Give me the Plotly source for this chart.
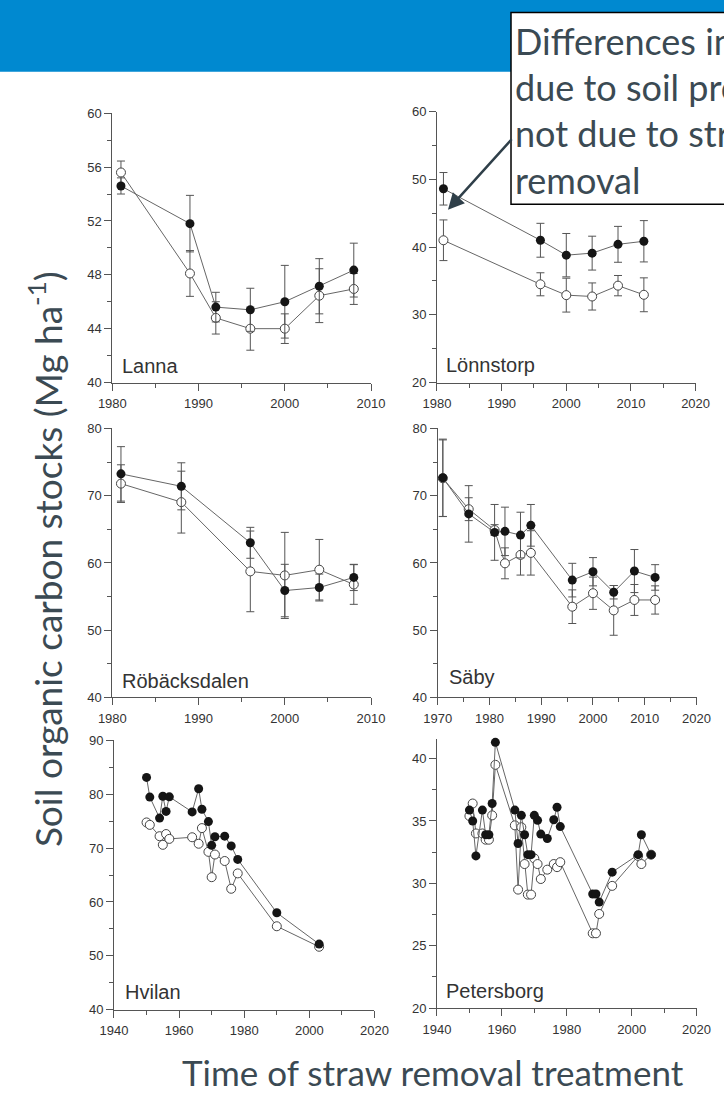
import plotly.graph_objects as go

W, H = 724, 1102

# ---------------- data ----------------
lanna_years = [1981, 1989, 1992, 1996, 2000, 2004, 2008]
lanna_incorp = [54.6, 51.8, 45.6, 45.4, 46.0, 47.15, 48.35]
lanna_incorp_err = [0.6, 2.1, 1.1, 1.6, 2.7, 2.05, 2.0]
lanna_removed = [55.6, 48.1, 44.8, 44.0, 44.0, 46.45, 46.95]
lanna_removed_err = [0.85, 1.7, 1.2, 1.6, 1.1, 2.0, 1.15]

lonn_years = [1981, 1996, 2000, 2004, 2008, 2012]
lonn_incorp = [48.6, 41.0, 38.8, 39.1, 40.4, 40.85]
lonn_incorp_err = [2.4, 2.5, 3.2, 2.5, 2.65, 3.05]
lonn_removed = [41.0, 34.5, 32.9, 32.7, 34.3, 32.95]
lonn_removed_err = [3.0, 1.7, 2.5, 2.0, 1.5, 2.5]

robk_years = [1981, 1988, 1996, 2000, 2004, 2008]
robk_incorp = [73.25, 71.4, 63.0, 55.9, 56.35, 57.85]
robk_incorp_err = [4.05, 3.5, 2.3, 3.9, 2.0, 1.95]
robk_removed = [71.8, 69.05, 58.75, 58.15, 59.0, 56.8]
robk_removed_err = [2.8, 4.6, 6.0, 6.4, 4.5, 2.95]

saby_years = [1971, 1976, 1981, 1983, 1986, 1988, 1996, 2000, 2004, 2008, 2012]
saby_incorp = [72.67, 67.3, 64.55, 64.7, 64.15, 65.6, 57.45, 58.7, 55.65, 58.8, 57.85]
saby_incorp_err = [5.75, 4.2, 4.15, 3.6, 3.4, 3.1, 2.5, 2.1, 1.0, 3.2, 1.9]
saby_removed = [72.6, 68.0, 64.9, 59.95, 61.2, 61.5, 53.5, 55.5, 52.95, 54.5, 54.5]
saby_removed_err = [5.7, 1.7, 0.8, 2.3, 3.0, 3.3, 2.5, 2.4, 3.7, 2.3, 2.1]

hvil_years = [1950, 1951, 1954, 1955, 1956, 1957, 1964, 1966, 1967, 1969,
              1970, 1971, 1974, 1976, 1978, 1990, 2003]
hvil_incorp = [83.1, 79.45, 75.55, 79.6, 76.8, 79.5, 76.7, 81.0, 77.2, 74.9,
               70.5, 72.1, 72.2, 70.4, 67.9, 58.0, 52.2]
hvil_removed = [74.75, 74.3, 72.2, 70.6, 72.6, 71.7, 72.0, 70.8, 73.7, 69.3,
                64.6, 68.8, 67.6, 62.45, 65.3, 55.5, 51.7]

pete_years = [1950, 1951, 1952, 1954, 1955, 1956, 1957, 1958,
              1964, 1965, 1966, 1967, 1968, 1969, 1970, 1971, 1972, 1974, 1976, 1977, 1978,
              1988, 1989, 1990, 1994, 2002, 2003, 2006]
pete_incorp = [35.87, 35.0, 32.2, 35.87, 33.9, 33.9, 36.4, 41.3,
               35.87, 33.2, 35.45, 33.9, 32.3, 32.3, 35.45, 35.05, 33.95, 33.6, 35.1, 36.1, 34.55,
               29.15, 29.15, 28.5, 30.9, 32.3, 33.9, 32.3]
pete_removed = [35.4, 36.4, 34.0, 34.0, 33.5, 33.5, 35.45, 39.5,
                34.65, 29.5, 34.5, 31.55, 29.1, 29.1, 32.0, 31.55, 30.35, 31.1, 31.55, 31.3, 31.7,
                26.0, 26.0, 27.55, 29.8, 32.2, 31.55, 32.3]

site_names = ["Lanna", "Lönnstorp", "Röbäcksdalen", "Säby", "Hvilan", "Petersborg"]

y_title = "Soil organic carbon stocks (Mg ha<sup>-1</sup>)"
x_title = "Time of straw removal treatment"
note_lines = ["Differences in SOC", "due to soil properties,", "not due to straw", "removal"]

# ---------------- layout of panels (pixels) ----------------
panels = [
    dict(years=lanna_years, f=lanna_incorp, fe=lanna_incorp_err, o=lanna_removed, oe=lanna_removed_err,
         xr=[1980, 2010], xd=10, xm=5, yr=[40, 60], yd=4, ym=2,
         px=(102.3, 371.4), py=(107.7, 380.7), lab=(0.029, 0.06)),
    dict(years=lonn_years, f=lonn_incorp, fe=lonn_incorp_err, o=lonn_removed, oe=lonn_removed_err,
         xr=[1980, 2020], xd=10, xm=5, yr=[20, 60], yd=10, ym=5,
         px=(440.0, 709.0), py=(106.0, 380.7), lab=(0.027, 0.066)),
    dict(years=robk_years, f=robk_incorp, fe=robk_incorp_err, o=robk_removed, oe=robk_removed_err,
         xr=[1980, 2010], xd=10, xm=5, yr=[40, 80], yd=10, ym=5,
         px=(102.3, 371.4), py=(427.3, 700.0), lab=(0.031, 0.061)),
    dict(years=saby_years, f=saby_incorp, fe=saby_incorp_err, o=saby_removed, oe=saby_removed_err,
         xr=[1970, 2020], xd=10, xm=5, yr=[40, 80], yd=10, ym=5,
         px=(440.7, 710.0), py=(427.3, 700.0), lab=(0.035, 0.076)),
    dict(years=hvil_years, f=hvil_incorp, fe=None, o=hvil_removed, oe=None,
         xr=[1940, 2020], xd=20, xm=10, yr=[40, 90], yd=10, ym=5,
         px=(104.0, 375.0), py=(743.3, 1016.7), lab=(0.034, 0.067)),
    dict(years=pete_years, f=pete_incorp, fe=None, o=pete_removed, oe=None,
         xr=[1940, 2020], xd=20, xm=10, yr=[20, 41.6], yd=5, ym=2.5,
         px=(440.0, 710.0), py=(741.7, 1015.0), lab=(0.027, 0.063)),
]

AX = "#555555"
LINE = "#666666"
TICKFONT = dict(family="Liberation Sans, Arial, sans-serif", size=13, color="#333333")
BIGFONT = "Lato, 'Open Sans', sans-serif"
SLATE = "#3b4a53"

fig = go.Figure()
layout = dict(width=W, height=H, margin=dict(l=0, r=0, t=0, b=0, pad=0),
              paper_bgcolor="white", plot_bgcolor="white", showlegend=False)

annotations = []
for i, (p, name) in enumerate(zip(panels, site_names), start=1):
    sx = "" if i == 1 else str(i)
    xa, ya = "x" + sx, "y" + sx
    err_o = dict(type="data", array=p["oe"], color=AX, thickness=1, width=4) if p["oe"] else None
    err_f = dict(type="data", array=p["fe"], color=AX, thickness=1, width=4) if p["fe"] else None
    fig.add_trace(go.Scatter(x=p["years"], y=p["o"], mode="lines+markers", xaxis=xa, yaxis=ya,
                             line=dict(color=LINE, width=1),
                             marker=dict(size=9, color="white", line=dict(color="#444444", width=1)),
                             error_y=err_o, cliponaxis=False))
    fig.add_trace(go.Scatter(x=p["years"], y=p["f"], mode="lines+markers", xaxis=xa, yaxis=ya,
                             line=dict(color=LINE, width=1),
                             marker=dict(size=9, color="#151515"),
                             error_y=err_f, cliponaxis=False))
    common = dict(showline=True, linecolor=AX, linewidth=1, ticks="outside", ticklen=7,
                  tickwidth=1, tickcolor=AX, showgrid=False, zeroline=False, tickfont=TICKFONT,
                  fixedrange=True)
    layout["xaxis" + sx] = dict(common, domain=[p["px"][0] / W, p["px"][1] / W], range=p["xr"],
                                dtick=p["xd"], tick0=p["xr"][0], anchor=ya, ticklabelstandoff=2,
                                minor=dict(ticks="outside", ticklen=4, tickcolor=AX,
                                           dtick=p["xm"], showgrid=False))
    layout["yaxis" + sx] = dict(common, domain=[1 - p["py"][1] / H, 1 - p["py"][0] / H],
                                range=p["yr"], dtick=p["yd"], tick0=p["yr"][0], anchor=xa,
                                minor=dict(ticks="outside", ticklen=4, tickcolor=AX,
                                           dtick=p["ym"], showgrid=False))
    annotations.append(dict(text=name, xref=xa + " domain", yref=ya + " domain",
                            x=p["lab"][0], y=p["lab"][1], xanchor="left", yanchor="middle",
                            showarrow=False,
                            font=dict(family="Liberation Sans, Arial, sans-serif", size=20,
                                      color="#333333")))

# axis titles
annotations.append(dict(text=x_title, xref="paper", yref="paper", x=436 / W, y=1 - 1080 / H,
                        xanchor="center", yanchor="middle", showarrow=False,
                        font=dict(family=BIGFONT, size=35, color=SLATE)))
annotations.append(dict(text=y_title, xref="paper", yref="paper", x=33 / W, y=1 - 560 / H,
                        xanchor="center", yanchor="middle", showarrow=False, textangle=-90,
                        font=dict(family=BIGFONT, size=37, color=SLATE)))

# callout text
for k, line in enumerate(note_lines):
    annotations.append(dict(text=line, xref="paper", yref="paper", x=519 / W,
                            y=1 - (34 + 47 * k) / H, xanchor="left", yanchor="middle",
                            showarrow=False, font=dict(family=BIGFONT, size=36, color=SLATE)))

# arrow pointing at the Lönnstorp 1981 difference
annotations.append(dict(text="", xref="x2", yref="y2", x=1981.7, y=45.5, ax=65, ay=-72,
                        showarrow=True, arrowhead=2, arrowsize=1.3, arrowwidth=2.5,
                        arrowcolor="#2f3f49"))

layout["annotations"] = annotations
layout["shapes"] = [
    dict(type="rect", xref="paper", yref="paper", x0=-0.1, x1=1.1, y0=1 - 65.7 / H, y1=1.1,
         fillcolor="#0089d0", line=dict(width=0), layer="below"),
    dict(type="rect", xref="paper", yref="paper", x0=517 / W, x1=1.05, y0=1 - 200 / H,
         y1=1 - 5.7 / H, fillcolor="white", line=dict(color="black", width=1.5), layer="above"),
]
fig.update_layout(**layout)

post = ("document.documentElement.style.margin='0';"
        "document.body.style.margin='0';document.body.style.padding='0';"
        "document.body.style.overflow='hidden';"
        "var d=document.getElementById('{plot_id}');"
        "d.style.position='absolute';d.style.left='0px';d.style.top='0px';")
fig.write_html("out.html", config={"displayModeBar": False}, post_script=post)
